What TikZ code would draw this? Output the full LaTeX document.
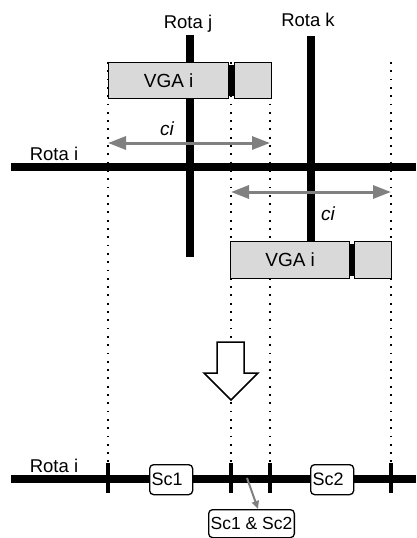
\documentclass[tikz,border=0pt]{standalone}
\usepackage{fontspec}
\setmainfont{Liberation Sans}
\usetikzlibrary{arrows.meta}
\definecolor{boxgray}{RGB}{217,217,217}
\definecolor{arrowgray}{RGB}{128,128,128}
\tikzset{
  lbl/.style={font=\fontsize{18.5}{20}\selectfont, inner sep=0pt},
  cilbl/.style={font=\fontsize{19}{20}\selectfont\itshape, inner sep=0pt, anchor=base},
  road/.style={line width=8pt},
  guide/.style={line width=1.8pt, dash pattern=on 1.8pt off 6.5pt},
  vga/.style={draw, fill=boxgray, line width=1.3pt, inner sep=0pt, anchor=north west,
    font=\fontsize{19}{20}\selectfont},
  span/.style={draw=arrowgray, line width=3pt,
    {Triangle[length=18pt,width=13pt]}-{Triangle[length=18pt,width=13pt]}},
  seg/.style={draw, fill=white, rounded corners=4pt, line width=1.3pt, inner sep=2pt,
    anchor=north west, font=\fontsize{18}{19}\selectfont},
  tickmark/.style={line width=3.5pt},
  bigarrow/.style={draw, fill=white, line width=1.5pt, line join=miter}
}
\begin{document}
\begin{tikzpicture}[x=1pt,y=-1pt]
\useasboundingbox (0,0) rectangle (416,538);

% column positions shared by the guides and the ticks
\coordinate (ga) at (108,62);  \coordinate (gb) at (231,62);
\coordinate (gc) at (270,62);  \coordinate (gd) at (391,62);
\foreach \g in {ga,gb,gc,gd}
  \draw[guide] (\g) -- (\g |- 0,463);

% road labels
\node[lbl, anchor=base] (rj) at (188,28) {Rota j};
\node[lbl, anchor=base] (rk) at (308,27) {Rota k};
\node[lbl, anchor=base] (ri) at (54,160) {Rota i};
\node[lbl, anchor=base] (ri2) at (54,472) {Rota i};

% roads of the crossing
\coordinate (jtop) at (190,35);  \coordinate (jbot) at (190,257);
\coordinate (ktop) at (311,36);  \coordinate (kbot) at (311,242);
\coordinate (iwest) at (11,167); \coordinate (ieast) at (416,167);
\draw[road] (jtop) -- (jbot);
\draw[road] (ktop) -- (kbot);
\draw[road] (iwest) -- (ieast);

% vehicle on Rota j
\node[vga, minimum width=120pt, minimum height=36pt] (vga1) at (108,62) {VGA i};
\node[vga, minimum width=37pt, minimum height=36pt] (trl1) at (234,62) {};
\fill (228.5,64.5) rectangle (234,95.5);

% vehicle on Rota k
\node[vga, minimum width=119pt, minimum height=37pt] (vga2) at (230,241) {VGA i};
\node[vga, minimum width=37pt, minimum height=37pt] (trl2) at (354,241) {};
\fill (349,243.5) rectangle (354,275.5);

% clearance spans
\coordinate (s1a) at (108,143); \coordinate (s1b) at (270,143);
\coordinate (s2a) at (231,192); \coordinate (s2b) at (391,192);
\draw[span] (s1a) -- (s1b);
\draw[span] (s2a) -- (s2b);
\node[cilbl] (ci1) at (167,135) {ci};
\node[cilbl] (ci2) at (328,220) {ci};

% transition arrow
\draw[bigarrow] (217,342) -- (244,342) -- (244,373) -- (258,373) -- (231,400)
  -- (204,373) -- (217,373) -- cycle;

% resulting road with segment marks
\coordinate (bwest) at (11,479); \coordinate (beast) at (416,479);
\draw[road] (bwest) -- (beast);
\foreach \g in {ga,gb,gc,gd}
  \draw[tickmark] (\g |- 0,463) -- (\g |- 0,493);

\node[seg, minimum width=43pt, minimum height=30pt, text width=39pt,
  align=left] (sc1) at (149,464) {Sc1};
\node[seg, minimum width=43pt, minimum height=30pt, text width=39pt,
  align=left] (sc2) at (310,464) {Sc2};
\node[seg, minimum width=83pt, minimum height=28pt,
  font=\fontsize{17.5}{18}\selectfont] (both) at (208,509) {Sc1 \& Sc2};

\coordinate (ov) at (247,478);
\draw[draw=arrowgray, line width=2pt, -{Triangle[length=8pt,width=7pt]}]
  (ov) -- (both.north west -| 258,0);
\end{tikzpicture}
\end{document}
